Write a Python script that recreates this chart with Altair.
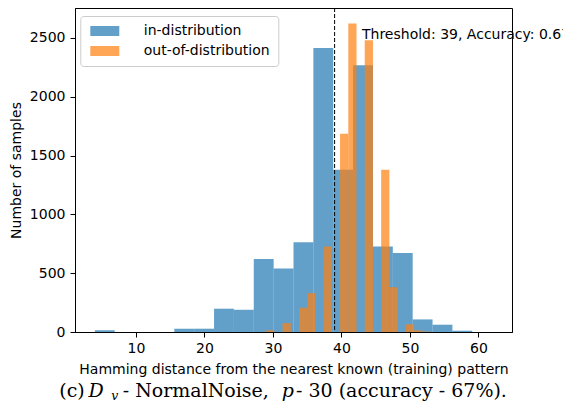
import altair as alt
import pandas as pd

# ---- data ----
series_names = ["in-distribution", "out-of-distribution"]
series_colors = ["#1f77b4", "#ff7f0e"]

in_edges = [4.0, 6.9, 9.8, 12.7, 15.6, 18.5, 21.4, 24.3, 27.2, 30.1, 33.0,
            35.9, 38.8, 41.7, 44.6, 47.5, 50.4, 53.3, 56.2, 59.1, 62.0]
in_counts = [15, 0, 0, 0, 28, 28, 198, 189, 621, 540, 763,
             2415, 1379, 2268, 726, 672, 107, 62, 11, 0]

out_edges = [29.0, 30.2, 31.4, 32.6, 33.8, 35.0, 36.2, 37.4, 38.6, 39.8, 41.0,
             42.2, 43.4, 44.6, 45.8, 47.0, 48.2, 49.4, 50.6, 51.8, 53.0]
out_counts = [14, 0, 76, 0, 206, 330, 0, 726, 0, 1686, 2624,
              0, 2480, 0, 1379, 381, 0, 65, 14, 3]

x_ticks = [10, 20, 30, 40, 50, 60]
y_ticks = [0, 500, 1000, 1500, 2000, 2500]
x_domain = [1.1, 64.9]
y_domain = [0, 2755]

threshold = 39
note_x = [43]
note_y = [2493]
note_text = ["Threshold: 39, Accuracy: 0.67"]

x_title = "Hamming distance from the nearest known (training) pattern"
y_title = "Number of samples"

caption_parts = ["(c)", "D", "v", "- NormalNoise,", "p", "- 30 (accuracy - 67%)."]

# ---- build tables ----
rows = []
for name, edges, counts in [(series_names[0], in_edges, in_counts),
                            (series_names[1], out_edges, out_counts)]:
    for i, c in enumerate(counts):
        if c > 0:
            rows.append({"series": name, "x0": edges[i], "x1": edges[i + 1],
                         "count": c, "base": 0})
bars_df = pd.DataFrame(rows)

xscale = alt.Scale(domain=x_domain, nice=False, zero=False)
yscale = alt.Scale(domain=y_domain, nice=False, zero=False)

bars = alt.Chart(bars_df).mark_rect(opacity=0.7).encode(
    x=alt.X("x0:Q", scale=xscale, axis=alt.Axis(
        values=x_ticks, title=x_title, labelPadding=4, titleY=41,
        titleBaseline="alphabetic", zindex=1)),
    x2="x1:Q",
    y=alt.Y("count:Q", scale=yscale, axis=alt.Axis(
        values=y_ticks, format="d", title=y_title, labelPadding=5, titleX=-55,
        titleBaseline="alphabetic", zindex=1)),
    y2="base:Q",
    color=alt.Color("series:N",
                    scale=alt.Scale(domain=series_names, range=series_colors),
                    legend=alt.Legend(
                        title=None, orient="none", legendX=5.3, legendY=8,
                        symbolType="M-2.9,-1H2.9V1H-2.9Z", symbolSize=100,
                        symbolOffset=9.5,
                        symbolOpacity=0.7, symbolStrokeWidth=0,
                        labelFont="DejaVu Sans", labelFontSize=14,
                        labelColor="black", labelOffset=32, rowPadding=6,
                        padding=8, strokeColor="#cccccc", fillColor="white",
                        cornerRadius=3)),
)

rule = alt.Chart(pd.DataFrame({"t": [threshold]})).mark_rule(
    color="black", strokeDash=[4, 2], strokeWidth=1).encode(
    x=alt.X("t:Q", scale=xscale))

note = alt.Chart(pd.DataFrame({"x": note_x, "y": note_y, "t": note_text})).mark_text(
    align="left", baseline="alphabetic", font="DejaVu Sans", fontSize=14,
    color="black").encode(
    x=alt.X("x:Q", scale=xscale), y=alt.Y("y:Q", scale=yscale), text="t:N")

# caption pieces: (x offset, y offset, size, style)
cap_layout = [(-15.7, 389, 19, "normal"),
              (13.5, 389, 19, "italic"),
              (36.3, 392.3, 12.5, "italic"),
              (47.7, 389, 19, "normal"),
              (206.7, 389, 19, "italic"),
              (221.0, 389, 19, "normal")]
cap_layers = []
for part, (cx, cy, fs, st) in zip(caption_parts, cap_layout):
    cap_layers.append(
        alt.Chart(pd.DataFrame({"t": [part]})).mark_text(
            align="left", baseline="alphabetic", font="DejaVu Serif",
            fontSize=fs, fontStyle=st, color="black").encode(
            x=alt.value(cx), y=alt.value(cy), text="t:N"))

chart = alt.layer(bars, rule, note, *cap_layers).properties(
    width=437, height=324,
    padding={"left": 67, "top": 0, "right": 51, "bottom": 70},
    autosize=alt.AutoSizeParams(type="none"),
).configure_view(
    stroke="black", strokeWidth=1
).configure_axis(
    labelFont="DejaVu Sans", labelFontSize=14, labelColor="black",
    titleFont="DejaVu Sans", titleFontSize=14, titleFontWeight="normal",
    titleColor="black", tickColor="black", tickSize=5, tickWidth=1,
    domainColor="black", domainWidth=1, grid=False
)

chart.save("out.html", embed_options={"renderer": "svg", "actions": False})
